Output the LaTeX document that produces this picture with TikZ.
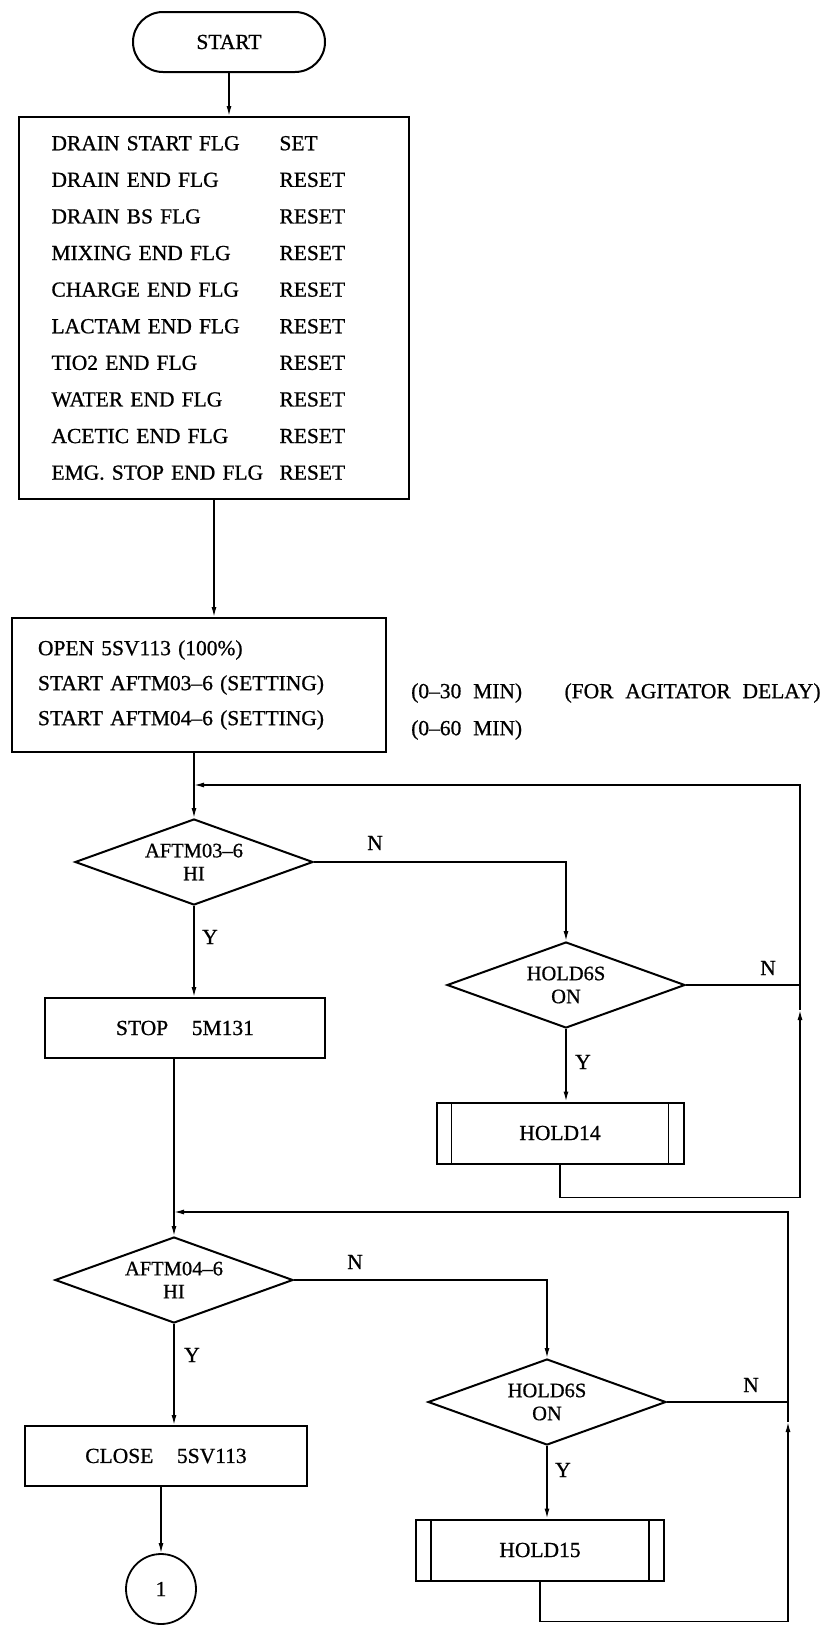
\documentclass[tikz,border=0pt]{standalone}
\usepackage{fontspec}
\newfontfamily\flowfont[Ligatures=TeX,WordSpace=2.2,FakeBold=0.8]{Liberation Serif}
\usetikzlibrary{positioning,arrows.meta,shapes.geometric}

\begin{document}
\begin{tikzpicture}[
  x=1pt, y=-1pt, >={Latex[length=10pt,width=5pt]},
  every node/.style={font=\flowfont\fontsize{21.5}{25}\selectfont},
  proc/.style={draw, line width=2pt, minimum width=280pt, minimum height=60pt, inner sep=0pt, align=center},
  sub/.style={proc, minimum width=247pt, minimum height=61pt, path picture={
      \draw[line width=1.6pt] ([xshift=15pt]path picture bounding box.north west) -- ([xshift=15pt]path picture bounding box.south west);
      \draw[line width=1.6pt] ([xshift=-15pt]path picture bounding box.north east) -- ([xshift=-15pt]path picture bounding box.south east);}},
  dec/.style={draw, diamond, aspect=2.77, line width=2pt, minimum width=238pt, minimum height=86pt, inner sep=0pt, align=center,
      font=\flowfont\fontsize{20.5}{23}\selectfont},
  term/.style={draw, rounded corners=30pt, line width=2pt, minimum width=192pt, minimum height=60pt},
  conn/.style={draw, circle, line width=1.8pt, minimum size=70pt, inner sep=0pt},
  flow/.style={line width=1.4pt},
  note/.style={inner sep=0pt},
]
  \useasboundingbox (0,0) rectangle (832,1625);

  % main column
  \node[term] (start) at (229,42) {START};
  \node[proc, minimum width=390pt, minimum height=382pt, text width=325pt, align=left,
        font=\flowfont\fontsize{21.5}{36.6}\selectfont] (flags) at (214,308) {%
    \makebox[228pt][l]{DRAIN START FLG}SET\\
    \makebox[228pt][l]{DRAIN END FLG}RESET\\
    \makebox[228pt][l]{DRAIN BS FLG}RESET\\
    \makebox[228pt][l]{MIXING END FLG}RESET\\
    \makebox[228pt][l]{CHARGE END FLG}RESET\\
    \makebox[228pt][l]{LACTAM END FLG}RESET\\
    \makebox[228pt][l]{TIO2 END FLG}RESET\\
    \makebox[228pt][l]{WATER END FLG}RESET\\
    \makebox[228pt][l]{ACETIC END FLG}RESET\\
    \makebox[228pt][l]{EMG. STOP END FLG}RESET};
  \node[proc, minimum width=374pt, minimum height=134pt, text width=322pt, align=left,
        font=\flowfont\fontsize{21.5}{35}\selectfont] (open) at (199,685) {%
    OPEN 5SV113 (100\%)\\
    START AFTM03--6 (SETTING)\\
    START AFTM04--6 (SETTING)};
  \node[note, anchor=west] (min30) at (411,693) {(0--30 MIN)};
  \node[note, right=42pt of min30] (agit) {(FOR AGITATOR DELAY)};
  \node[note, anchor=west] (min60) at (411,730) {(0--60 MIN)};

  \node[dec] (tm3) at (194,862) {AFTM03--6\\HI};
  \node[proc] (stop) at (185,1028) {STOP\ \ 5M131};
  \node[dec] (hold1) at (566,985) {HOLD6S\\ON};
  \node[sub] (h14) at (560,1133) {HOLD14};

  \node[dec] (tm4) at (174,1280) {AFTM04--6\\HI};
  \node[proc, minimum width=282pt] (close) at (166,1456) {CLOSE\ \ 5SV113};
  \node[dec] (hold2) at (547,1402) {HOLD6S\\ON};
  \node[sub, minimum width=248pt] (h15) at (540,1550) {HOLD15};
  \node[conn] (one) at (161,1589) {1};

  % loop corners
  \coordinate (top1) at (800,785);
  \coordinate (ret1) at (800,1010);
  \coordinate (top2) at (788,1212);
  \coordinate (ret2) at (788,1422);
  \coordinate (j1) at (tm3.north |- top1);
  \coordinate (j2) at (tm4.north |- top2);

  \draw[flow,->] (start.south) -- (start.south |- flags.north);
  \draw[flow,->] (flags.south) -- (flags.south |- open.north);
  \draw[flow,->] (tm3.north |- open.south) -- (tm3.north);
  \draw[flow,->] (tm3.south) -- (tm3.south |- stop.north);
  \draw[flow,->] (tm3.east) -| (hold1.north);
  \draw[flow,->] (hold1.south) -- (hold1.south |- h14.north);
  \draw[flow] (hold1.east) -- (hold1.east -| ret1);
  \draw[flow,->] (h14.south) -- ++(0,33) -| (ret1);
  \draw[flow,->] (ret1) |- (j1);

  \draw[flow,->] (tm4.north |- stop.south) -- (tm4.north);
  \draw[flow,->] (tm4.south) -- (tm4.south |- close.north);
  \draw[flow,->] (tm4.east) -| (hold2.north);
  \draw[flow,->] (hold2.south) -- (hold2.south |- h15.north);
  \draw[flow] (hold2.east) -- (hold2.east -| ret2);
  \draw[flow,->] (h15.south) -- ++(0,40) -| (ret2);
  \draw[flow,->] (ret2) |- (j2);
  \draw[flow,->] (one.north |- close.south) -- (one.north);

  % branch labels
  \node[note] (n1) at (375,843) {N};
  \node[note] (y1) at (210,937) {Y};
  \node[note] (n2) at (768,968) {N};
  \node[note] (y2) at (583,1062) {Y};
  \node[note] (n3) at (355,1262) {N};
  \node[note] (y3) at (192,1355) {Y};
  \node[note] (n4) at (751,1385) {N};
  \node[note] (y4) at (563,1470) {Y};
\end{tikzpicture}
\end{document}
